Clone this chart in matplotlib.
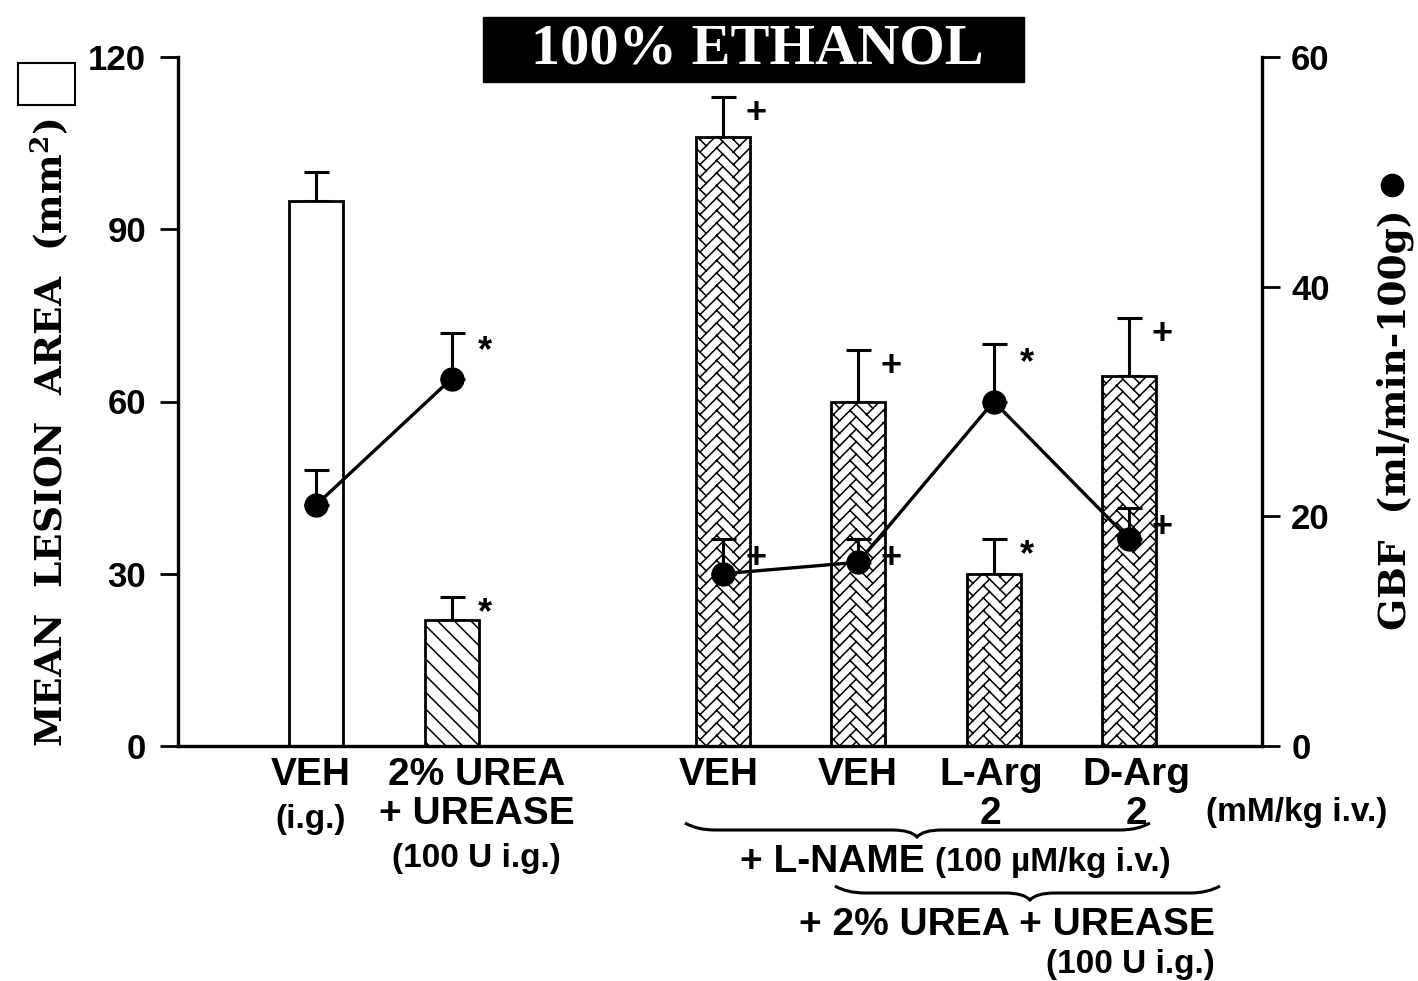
import warnings
import numpy as np
import matplotlib
matplotlib.use('Agg')
import matplotlib.pyplot as plt
import matplotlib.hatch as mhatch
from matplotlib.path import Path
from matplotlib.patches import Rectangle, PathPatch
from matplotlib.lines import Line2D

warnings.filterwarnings('ignore')

# data
xpos = [0, 1, 3, 4, 5, 6]
lesion = [95, 22, 106, 60, 30, 64.5]
lesion_err = [5, 4, 7, 9, 6, 10]
lesion_sig = ['', '*', '+', '+', '*', '+']
gbf = [21, 32, 15, 16, 30, 18]
gbf_err = [3, 4, 3, 2, 5, 2.7]
gbf_sig = ['', '*', '+', '+', '*', '+']
gbf_groups = [[0, 1], [2, 3, 4, 5]]
hatches = ['', '\\\\', 'z', 'z', 'z', 'z']
cat_labels = [['VEH', '(i.g.)'], ['2% UREA', '+ UREASE', '(100 U i.g.)'],
              ['VEH'], ['VEH'], ['L-Arg', '2'], ['D-Arg', '2']]
label_shift = [-4, 18, -3, 0, -2, 5]   # points, labels are not quite centred


# herringbone hatch: zigzags plus short brick ends, copied across the tile
# edges so the pattern repeats cleanly; drawn as separate strokes (no fill)
def herringbone_segments(nlines=8, nper=3, stub=0.0625):
    n = 2 * nper + 1
    xs = np.linspace(0, 1, n)
    amp = 0.5 / (2 * nper)
    zig = np.where(np.arange(n) % 2 == 0, -amp, amp)
    steps = (np.arange(nlines) + 0.5) / nlines
    segs = []
    for y0 in steps:
        yy = y0 + zig
        base = []
        for j in range(n - 1):
            base.append(((xs[j], yy[j]), (xs[j + 1], yy[j + 1])))
            dx, dy = xs[j + 1] - xs[j], yy[j + 1] - yy[j]
            f = stub / dx
            base.append(((xs[j + 1], yy[j + 1]), (xs[j + 1] + dx * f, yy[j + 1] + dy * f)))
        for sx in (-1, 0, 1):
            for sy in (-1, 0, 1):
                for (a, b), (c, d) in base:
                    segs.append(((a + sx, b + sy), (c + sx, d + sy)))
    return segs


HB_SEGS = herringbone_segments()


class HerringboneHatch(mhatch.HatchPatternBase):
    def __init__(self, hatch, density):
        self.num_vertices = 2 * len(HB_SEGS) if 'z' in hatch else 0

    def set_vertices_and_codes(self, vertices, codes):
        for k, (p, q) in enumerate(HB_SEGS):
            vertices[2 * k] = p
            vertices[2 * k + 1] = q
            codes[2 * k] = Path.MOVETO
            codes[2 * k + 1] = Path.LINETO


mhatch._hatch_types.append(HerringboneHatch)
plt.rcParams['hatch.linewidth'] = 1.1

W, H = 1418, 981
SANS = ['Liberation Sans', 'DejaVu Sans']
SERIF = 'DejaVu Serif'


def fx(x):
    return x / W


def fy(y):
    return 1 - y / H


fig = plt.figure(figsize=(W / 100, H / 100), dpi=100)
ax = fig.add_axes([fx(178), fy(746), (1262 - 178) / W, (746 - 57) / H])

bars = ax.bar(xpos, lesion, width=0.4, color='white', edgecolor='black', linewidth=2, zorder=2)
for b, h in zip(bars, hatches):
    b.set_hatch(h)
ax.errorbar(xpos, lesion, yerr=[np.zeros(len(lesion)), lesion_err], fmt='none',
            ecolor='black', elinewidth=2.2, capsize=9, capthick=2.2, zorder=1)
for x, v, e, s in zip(xpos, lesion, lesion_err, lesion_sig):
    if s:
        ax.annotate(s, (x, v + e), xytext=(24, -12), textcoords='offset points',
                    ha='center', va='center', fontsize=26, fontweight='bold', family=SANS)

ax.set_xlim(-1.02, 6.98)
ax.set_ylim(0, 120)
ax.set_yticks([0, 30, 60, 90, 120])
ax.set_xticks([])
for side in ['top', 'right']:
    ax.spines[side].set_visible(False)
for side in ['left', 'bottom']:
    ax.spines[side].set_linewidth(2.4)
ax.tick_params(axis='y', length=13, width=2, pad=10, labelsize=25)
for t in ax.get_yticklabels():
    t.set_fontweight('bold')
    t.set_family(SANS)

ax2 = ax.twinx()
ax2.set_ylim(0, 60)
ax2.set_yticks([0, 20, 40, 60])
for side in ['top', 'left', 'bottom']:
    ax2.spines[side].set_visible(False)
ax2.spines['right'].set_linewidth(2.4)
ax2.tick_params(axis='y', length=13, width=2, pad=8, labelsize=25)
for t in ax2.get_yticklabels():
    t.set_fontweight('bold')
    t.set_family(SANS)

for g in gbf_groups:
    ax2.plot([xpos[i] for i in g], [gbf[i] for i in g], color='black', lw=2.4,
             marker='o', ms=16.5, mfc='black', mec='black', zorder=3)
ax2.errorbar(xpos, gbf, yerr=[np.zeros(len(gbf)), gbf_err], fmt='none',
             ecolor='black', elinewidth=2.2, capsize=9, capthick=2.2, zorder=2)
for x, v, e, s in zip(xpos, gbf, gbf_err, gbf_sig):
    if s:
        ax2.annotate(s, (x, v + e), xytext=(24, -14), textcoords='offset points',
                     ha='center', va='center', fontsize=26, fontweight='bold', family=SANS)

# category labels under the bars
for x, lines, dx in zip(xpos, cat_labels, label_shift):
    for k, txt in enumerate(lines):
        small = txt.startswith('(')
        ax.annotate(txt, (x, 0), xytext=(dx, -21 - 28 * k - (4 if small else 0)),
                    textcoords='offset points', ha='center', va='center',
                    fontsize=24 if small else 28, fontweight='bold', family=SANS)

# group annotations
fig.text(fx(1297), fy(813), '(mM/kg i.v.)', fontsize=24, fontweight='bold',
         family=SANS, ha='center', va='center')
fig.text(fx(925), fy(862), '+ L-NAME', fontsize=28, fontweight='bold',
         family=SANS, ha='right', va='center')
fig.text(fx(935), fy(862), '(100 µM/kg i.v.)', fontsize=24, fontweight='bold',
         family=SANS, ha='left', va='center')
fig.text(fx(1215), fy(925), '+ 2% UREA + UREASE', fontsize=28, fontweight='bold',
         family=SANS, ha='right', va='center')
fig.text(fx(1215), fy(965), '(100 U i.g.)', fontsize=24, fontweight='bold',
         family=SANS, ha='right', va='center')


def brace(x0, x1, xt, y, d=7):
    verts = [(x0, y - d), (x0 + 12, y), (x0 + 30, y), (xt - 25, y), (xt - 6, y),
             (xt, y + d), (xt + 6, y), (xt + 25, y), (x1 - 30, y), (x1 - 12, y), (x1, y - d)]
    codes = [Path.MOVETO, Path.CURVE3, Path.CURVE3, Path.LINETO, Path.CURVE3, Path.CURVE3,
             Path.CURVE3, Path.CURVE3, Path.LINETO, Path.CURVE3, Path.CURVE3]
    verts = [(fx(a), fy(b)) for a, b in verts]
    fig.add_artist(PathPatch(Path(verts, codes), fill=False, lw=2.2, ec='black',
                             transform=fig.transFigure))


brace(685, 1150, 917, 830)
brace(835, 1220, 1030, 893)

# title box
fig.add_artist(Rectangle((fx(483), fy(82)), (1024 - 483) / W, (82 - 17) / H,
                         transform=fig.transFigure, fc='black', ec='black'))
fig.text(fx(757), fy(50), '100% ETHANOL', color='white', fontsize=42, fontweight='bold',
         family='Liberation Serif', ha='center', va='center')

# axis titles with their legend keys
plt.rcParams['mathtext.fontset'] = 'dejavuserif'
plt.rcParams['mathtext.default'] = 'bf'
fig.text(fx(50), fy(432), 'MEAN  LESION  AREA  (mm$^2$)', rotation=90, fontsize=27,
         fontweight='bold', family=SERIF, ha='center', va='center')
fig.add_artist(Rectangle((fx(18), fy(105)), 57 / W, 42 / H, transform=fig.transFigure,
                         fc='white', ec='black', lw=1.5))
fig.text(fx(1395), fy(420), 'GBF  (ml/min-100g)', rotation=90, fontsize=27,
         fontweight='bold', family=SERIF, ha='center', va='center')
fig.add_artist(Line2D([fx(1392)], [fy(185)], marker='o', ms=16, color='black',
                      transform=fig.transFigure))

fig.savefig('out.png', dpi=100)
